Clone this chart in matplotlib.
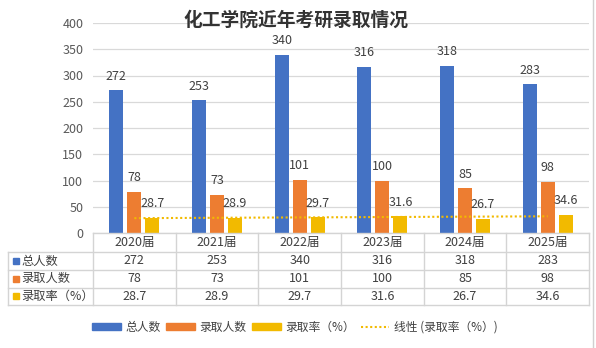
import numpy as np
import matplotlib
matplotlib.use('Agg')
import matplotlib.pyplot as plt
from matplotlib.patches import Patch, Rectangle
from matplotlib.lines import Line2D
import matplotlib.transforms as mtransforms

plt.rcParams['font.family'] = ['Noto Sans CJK SC', 'DejaVu Sans']

# data
years = ['2020届', '2021届', '2022届', '2023届', '2024届', '2025届']
total = [272, 253, 340, 316, 318, 283]
admitted = [78, 73, 101, 100, 85, 98]
rate = [28.7, 28.9, 29.7, 31.6, 26.7, 34.6]
series_names = ['总人数', '录取人数', '录取率（%）']
trend_name = '线性 (录取率（%）)'
title = '化工学院近年考研录取情况'

blue = '#4472C4'
orange = '#ED7D31'
yellow = '#F2BA00'
txt = '#404040'
grid = '#D9D9D9'

W, H = 596, 348
fig = plt.figure(figsize=(W / 100, H / 100), dpi=100)
left_px, right_px, top_px, bot_px = 93, 589, 23, 233
ax = fig.add_axes([left_px / W, (H - bot_px) / H, (right_px - left_px) / W, (bot_px - top_px) / H])

x = np.arange(len(years))
unit = (right_px - left_px) / len(years)   # px per category
bw = 14 / unit
off = 18 / unit

b1 = ax.bar(x - off, total, bw, color=blue)
b2 = ax.bar(x, admitted, bw, color=orange)
b3 = ax.bar(x + off, rate, bw, color=yellow)
for b in (b1, b2, b3):
    ax.bar_label(b, padding=5.5, fontsize=9, color=txt)

# linear trend of rate
k, c = np.polyfit(x, rate, 1)
ax.plot(x, k * x + c, color=yellow, linestyle=(0, (1, 1.2)), linewidth=1.5)

ax.set_xlim(-0.5, len(years) - 0.5)
ax.set_ylim(0, 400)
ax.set_yticks(range(0, 401, 50))
ax.tick_params(axis='y', length=0, labelsize=9, labelcolor='#595959', pad=7)
ax.set_xticks([])
ax.grid(axis='y', color=grid, linewidth=0.9)
ax.set_axisbelow(True)
for s in ax.spines.values():
    s.set_visible(False)

# data table under the plot
tr = mtransforms.blended_transform_factory(ax.transData, ax.transAxes)
ah = bot_px - top_px
rows_px = [233, 252, 270, 287.5, 305]
ry = [(bot_px - p) / ah for p in rows_px]
xl = (8 - left_px) / unit - 0.5
lc = '#D4D4D4'
# horizontal lines
ax.plot([-0.5, len(years) - 0.5], [ry[0]] * 2, color=lc, lw=1, transform=tr, clip_on=False)
for yy in ry[1:]:
    ax.plot([xl, len(years) - 0.5], [yy] * 2, color=lc, lw=1, transform=tr, clip_on=False)
# vertical lines
for i in range(len(years) + 1):
    ax.plot([i - 0.5] * 2, [ry[0], ry[-1]], color=lc, lw=1, transform=tr, clip_on=False)
ax.plot([xl] * 2, [ry[1], ry[-1]], color=lc, lw=1, transform=tr, clip_on=False)

fs = 9
for i, yr in enumerate(years):
    ax.text(i, (ry[0] + ry[1]) / 2, yr, ha='center', va='center', fontsize=fs, color=txt, transform=tr)
table_rows = [total, admitted, rate]
colors = [blue, orange, yellow]
sq = 6 / unit
for r, (vals, name, col) in enumerate(zip(table_rows, series_names, colors)):
    yc = (ry[r + 1] + ry[r + 2]) / 2
    for i, v in enumerate(vals):
        ax.text(i, yc, str(v), ha='center', va='center', fontsize=fs, color=txt, transform=tr)
    x0 = (13 - left_px) / unit - 0.5
    sh = 6 / ah
    ax.add_patch(Rectangle((x0, yc - sh / 2), sq, sh, color=col, transform=tr, clip_on=False))
    ax.text((21 - left_px) / unit - 0.5, yc, name, ha='left', va='center', fontsize=8.8,
            color=txt, transform=tr)

# title
fig.text(296 / W, 1 - 20 / H, title, ha='center', va='center', fontsize=13.5,
         fontweight='bold', color='#333333')

# legend
handles = [Patch(color=blue), Patch(color=orange), Patch(color=yellow),
           Line2D([], [], color=yellow, linestyle=(0, (1, 1.2)), linewidth=1.5)]
fig.legend(handles, series_names + [trend_name], loc='center', ncol=4,
           bbox_to_anchor=(295 / W, 1 - 327 / H), frameon=False, fontsize=8.5,
           labelcolor=txt, handlelength=2.4, handleheight=0.6, handletextpad=0.4,
           columnspacing=0.5)

# sheet edge line on the right
fig.add_artist(Line2D([593 / W] * 2, [0, 1], color='#D0D0D0', lw=1))

fig.savefig('out.png', dpi=100, facecolor='white')
